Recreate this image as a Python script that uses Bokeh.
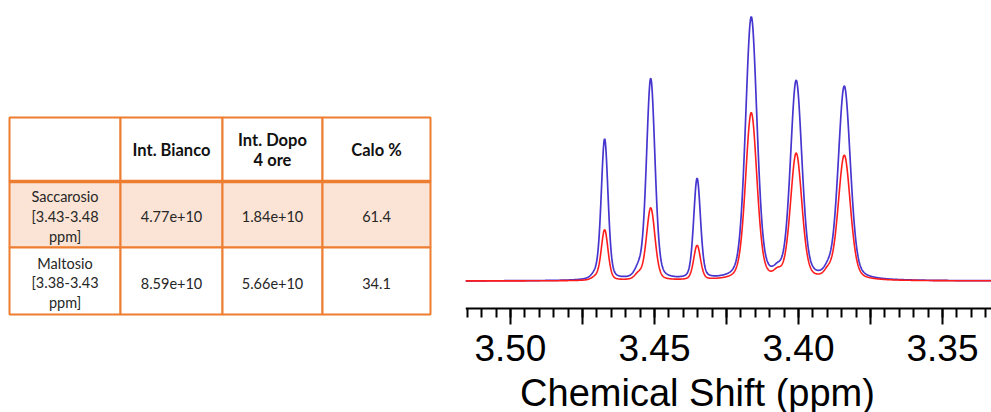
import numpy as np
from bokeh.plotting import figure
from bokeh.layouts import row
from bokeh.models import Range1d, FixedTicker, CustomJSTickFormatter, ColumnDataSource, Label
from bokeh.core.properties import value
from bokeh.embed import file_html
from bokeh.resources import INLINE

# ---- table contents ----
header = ["", "Int. Bianco", "Int. Dopo\n4 ore", "Calo %"]
sugars = ["Saccarosio\n[3.43-3.48\nppm]", "Maltosio\n[3.38-3.43\nppm]"]
int_bianco = ["4.77e+10", "8.59e+10"]
int_dopo = ["1.84e+10", "5.66e+10"]
calo_pct = ["61.4", "34.1"]

# ---- 1H NMR lines: position (ppm), width (ppm), relative height ----
line_ppm = [3.4673, 3.4513, 3.4352, 3.4164, 3.4008, 3.3841]
line_fwhm = [0.0028, 0.0035, 0.0028, 0.0047, 0.0047, 0.0050]
height_bianco = [53.8, 76.7, 38.9, 100.0, 76.0, 73.8]
height_dopo = [19.4, 27.7, 13.5, 63.7, 48.4, 47.6]
minor_ppm = [3.4706, 3.4556, 3.4073, 3.3899]
minor_bianco = [1.5, 3.0, 2.0, 2.0]
minor_dopo = [1.0, 2.0, 2.0, 2.0]
minor_fwhm = 0.003

tick_labels = ["3.50", "3.45", "3.40", "3.35"]

ORANGE = "#ED7D31"
PEACH = "#FBE4D5"
ETA = 0.3  # Lorentzian fraction of the pseudo-Voigt line shape

W, H = 991, 412
SPLIT = 460                      # width of the table panel
PPM_LEFT, PPM_RIGHT = 3.5156, 3.3330
PX_PER_UNIT = 2.643              # vertical scale of the spectrum (px per intensity unit)
BASE_PX = 280.5                  # baseline height from the top
AXIS_PX = 308                    # axis line height from the top


def shape(x, x0, fwhm):
    u = (np.asarray(x) - x0) / (fwhm / 2.0)
    return ETA / (1.0 + u ** 2) + (1.0 - ETA) * np.exp(-np.log(2.0) * u ** 2)


def spectrum(x, heights, minor):
    centers = np.array(line_ppm)
    minor_part = lambda xx: sum(h * shape(xx, p, minor_fwhm) for p, h in zip(minor_ppm, minor))
    # solve for amplitudes so the summed curve reaches each listed height at its line
    M = np.array([[shape(ci, pj, wj) for pj, wj in zip(line_ppm, line_fwhm)] for ci in centers])
    amp = np.linalg.solve(M, np.array(heights) - minor_part(centers))
    return minor_part(x) + sum(a * shape(x, p, w) for a, p, w in zip(amp, line_ppm, line_fwhm))


# ---------------- table panel ----------------
col_edges = [9, 120, 222, 322, 430]
row_edges = [117, 181, 247, 314]
row_fill = ["white", PEACH, "white"]

tab = figure(width=SPLIT, height=H, x_range=Range1d(0, SPLIT), y_range=Range1d(H, 0),
             output_backend="svg", toolbar_location=None,
             x_axis_location=None, y_axis_location=None,
             min_border=0)
tab.grid.visible = False
tab.outline_line_color = None

cells = dict(left=[], right=[], top=[], bottom=[], fill=[])
for r in range(3):
    for c in range(4):
        cells["left"].append(col_edges[c])
        cells["right"].append(col_edges[c + 1])
        cells["top"].append(row_edges[r])
        cells["bottom"].append(row_edges[r + 1])
        cells["fill"].append(row_fill[r])
tab.quad(left="left", right="right", top="top", bottom="bottom", fill_color="fill",
         line_color=ORANGE, line_width=2, source=ColumnDataSource(cells))
tab.segment(x0=[col_edges[0]], y0=[row_edges[1]], x1=[col_edges[-1]], y1=[row_edges[1]],
            line_color=ORANGE, line_width=3.5)

cx = [(a + b) / 2 for a, b in zip(col_edges[:-1], col_edges[1:])]
cy = [(a + b) / 2 for a, b in zip(row_edges[:-1], row_edges[1:])]

tab.text(x=cx, y=[cy[0]] * 4, text=header, text_align="center", text_baseline="middle",
         text_font=value("Lato"), text_font_size=value("16.5px"), text_font_style="bold",
         text_color="#111111", text_line_height=1.0)
body = [sugars, int_bianco, int_dopo, calo_pct]
bx, by, bt = [], [], []
for c, col in enumerate(body):
    for r, txt in enumerate(col):
        bx.append(cx[c])
        by.append(cy[r + 1])
        bt.append(txt)
tab.text(x=bx, y=by, text=bt, text_align="center", text_baseline="middle", y_offset=2,
         text_font=value("Lato"), text_font_size=value("14.5px"),
         text_color="#262626", text_line_height=1.17)

# ---------------- spectrum panel ----------------
x = np.linspace(PPM_LEFT, PPM_RIGHT, 1400)
y_bianco = spectrum(x, height_bianco, minor_bianco)
y_dopo = spectrum(x, height_dopo, minor_dopo)

y_top = BASE_PX / PX_PER_UNIT
y_bottom = -(H - BASE_PX) / PX_PER_UNIT
spec = figure(width=W - SPLIT, height=H, x_range=Range1d(PPM_LEFT, PPM_RIGHT),
              y_range=Range1d(y_bottom, y_top),
              output_backend="svg", toolbar_location=None, y_axis_location=None,
              min_border_left=5, min_border_right=0, min_border_top=0, min_border_bottom=0)
spec.grid.visible = False
spec.outline_line_color = None
spec.line(x, y_bianco, line_color="#4636cf", line_width=1.7)
spec.line(x, y_dopo, line_color="#ff1c1c", line_width=1.6)

major = [float(t) for t in tick_labels]
mid = [m - 0.025 for m in major]
minor_ticks = list(np.round(np.arange(3.335, 3.5155, 0.005), 3))
ax = spec.xaxis[0]
ax.fixed_location = -(AXIS_PX - BASE_PX) / PX_PER_UNIT
ax.ticker = FixedTicker(ticks=sorted(major + mid), minor_ticks=minor_ticks)
ax.formatter = CustomJSTickFormatter(code="return (Math.round(tick * 40) % 2 === 0) ? tick.toFixed(2) : '';")
ax.major_label_text_font = "Liberation Sans"
ax.major_label_text_font_size = "37px"
ax.major_label_text_color = "black"
ax.axis_line_width = 2
ax.major_tick_line_width = 2
ax.minor_tick_line_width = 2
ax.major_tick_in = 0
ax.major_tick_out = 16
ax.minor_tick_in = 0
ax.minor_tick_out = 9
ax.major_label_standoff = 10

# axis title, centred under the labelled part of the scale
title_ppm = PPM_LEFT - (697 - SPLIT - 5) * (PPM_LEFT - PPM_RIGHT) / (W - SPLIT - 5)
spec.add_layout(Label(x=title_ppm, y=-(392 - BASE_PX) / PX_PER_UNIT, text="Chemical Shift (ppm)",
                      text_align="center", text_baseline="middle",
                      text_font="Liberation Sans", text_font_size="38px", text_color="black"))

page = row(tab, spec, spacing=0)
open("out.html", "w").write(file_html(page, INLINE))
